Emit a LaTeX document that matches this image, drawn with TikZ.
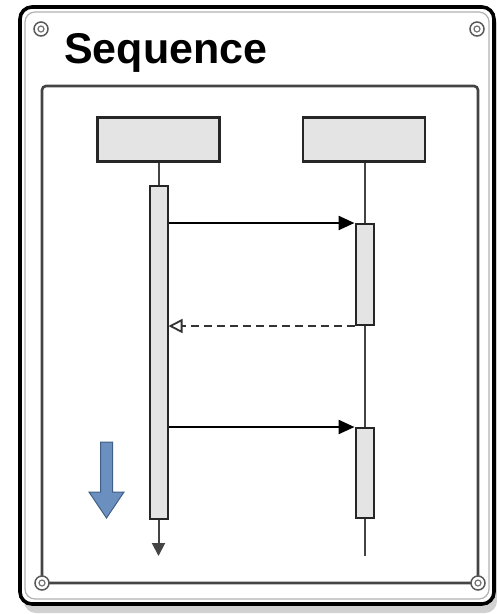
\documentclass[tikz,border=0pt]{standalone}
\usepackage{fontspec}
\setmainfont{Liberation Sans}
\usetikzlibrary{arrows.meta}
\definecolor{boxgray}{HTML}{E4E4E4}
\definecolor{linegray}{HTML}{444444}
\definecolor{bluearrow}{HTML}{6B8FBE}
\definecolor{bluedark}{HTML}{3F5F86}
\tikzset{
  headbox/.style={draw=black!85,line width=2.6pt,fill=boxgray,minimum width=122pt,minimum height=44pt,inner sep=0pt},
  actbar/.style={draw=black!85,line width=2pt,fill=boxgray,minimum width=18pt,inner sep=0pt,anchor=north},
  lifeline/.style={draw=linegray,line width=2pt},
  msg/.style={draw=black,line width=2.4pt,-{Triangle[length=16pt,width=14pt]}},
  reply/.style={draw=black!80,line width=2pt,dash pattern=on 8pt off 5pt,-{Triangle[open,length=14pt,width=14pt,line width=1.8pt,fill=white]}},
  screw/.style={draw=black!65,line width=1.5pt,circle,fill=white,inner sep=0pt,minimum size=14pt},
  screwin/.style={draw=black!55,line width=1.2pt,circle,inner sep=0pt,minimum size=6pt}
}
\begin{document}
\begin{tikzpicture}[x=1pt,y=-1pt]
\useasboundingbox (0,0) rectangle (497,614);
% shadow
\fill[black!18,rounded corners=12pt] (24,12) rectangle (497,613);
% outer frame
\draw[fill=white,line width=3.6pt,rounded corners=12pt] (20,7) rectangle (494,604);
\draw[black!30,line width=1.2pt,rounded corners=10pt] (25,12) rectangle (489,599);
% inner panel
\draw[draw=linegray,line width=2.6pt,rounded corners=4pt] (42,86) rectangle (478,583);
% screws
\node[screw] (s1) at (41,29) {};
\node[screwin] at (s1) {};
\node[screw] (s2) at (477,29) {};
\node[screwin] at (s2) {};
\node[screw] (s3) at (42,583) {};
\node[screwin] at (s3) {};
\node[screw] (s4) at (478,583) {};
\node[screwin] at (s4) {};
% title
\node[anchor=base west,font=\fontsize{43}{43}\selectfont\bfseries,inner sep=0pt] (title) at (64,63) {Sequence};
% headers
\node[headbox] (h1) at (158.5,139.5) {};
\node[headbox] (h2) at (364,139.5) {};
% activation bars
\node[actbar,minimum height=333pt] (a1) at (158.5,185) {};
\node[actbar,minimum height=101pt] (r1) at (364.5,223) {};
\node[actbar,minimum height=90pt] (r2) at (364.5,427) {};
% lifelines
\coordinate (e1) at (158.5,556);
\coordinate (e2) at (364.5,556);
\draw[lifeline] (h1.south) -- (a1.north);
\draw[lifeline,-{Triangle[length=13pt,width=13pt]}] (a1.south) -- (e1);
\draw[lifeline] (h2.south -| r1.north) -- (r1.north);
\draw[lifeline] (r1.south) -- (r2.north);
\draw[lifeline] (r2.south) -- (e2);
% messages
\draw[msg] (a1.east |- r1.north) -- (r1.north west);
\draw[reply] (r1.south west) -- (a1.east |- r1.south);
\draw[msg] (a1.east |- r2.north) -- (r2.north west);
% blue arrow (time direction)
\filldraw[draw=bluedark,fill=bluearrow,line width=1pt,line join=miter]
  (100.5,442) -- (112.5,442) -- (112.5,492) -- (124,492) -- (106.5,518) -- (89,492) -- (100.5,492) -- cycle;
\end{tikzpicture}
\end{document}
